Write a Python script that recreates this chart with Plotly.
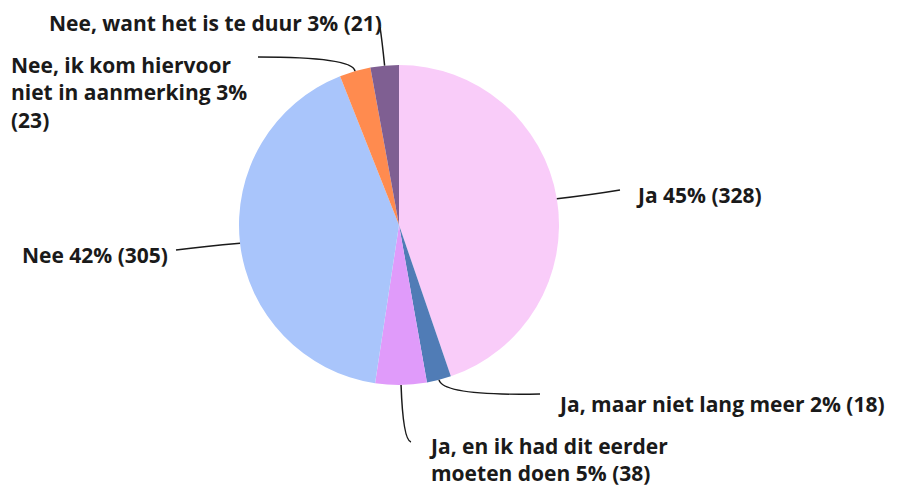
import math
import plotly.graph_objects as go

W, H = 902, 490
OFF = 8  # page body margin the figure sits in

labels = ["Ja", "Ja, maar niet lang meer", "Ja, en ik had dit eerder moeten doen",
          "Nee", "Nee, ik kom hiervoor niet in aanmerking", "Nee, want het is te duur"]
counts = [328, 18, 38, 305, 23, 21]
colors = ["#F9CCF9", "#507CB6", "#E09BFA", "#A9C5FB", "#FF8B4F", "#7F5F92"]

# words per line where the label text wraps in the picture
wrap_words = {
    "Ja, en ik had dit eerder moeten doen": [6],
    "Nee, ik kom hiervoor niet in aanmerking": [4, 4],
}

# pie geometry in page pixels
cx, cy, R = 399, 225, 160

# label placement (page pixels): text x, text y, anchor, leader elbow, leader end
placing = {
    "Ja": dict(x=634, y=195, xa="left", elbow=(590, 195), end=(620, 190)),
    "Ja, maar niet lang meer": dict(x=556, y=404, xa="left", elbow=(443, 396), end=(540, 394)),
    "Ja, en ik had dit eerder moeten doen": dict(x=427, y=459, xa="left", elbow=(403, 440), end=(411, 442)),
    "Nee": dict(x=170, y=255, xa="right", elbow=(205, 246), end=(176, 250)),
    "Nee, ik kom hiervoor niet in aanmerking": dict(x=9, y=92, xa="left", elbow=(353, 57), end=(258, 57)),
    "Nee, want het is te duur": dict(x=384, y=23, xa="right", elbow=(382, 40), end=(380, 27)),
}


def px(x, y):
    return (x - OFF) / W, 1 - (y - OFF) / H


def wrap(text, sizes):
    words = text.split(" ")
    lines, i = [], 0
    for s in sizes:
        lines.append(" ".join(words[i:i + s]))
        i += s
    lines.append(" ".join(words[i:]))
    return "<br>".join(lines)


fig = go.Figure()
x0, y1 = px(cx - R, cy - R)
x1, y0 = px(cx + R, cy + R)
fig.add_trace(go.Pie(labels=labels, values=counts, sort=False, direction="clockwise",
                     rotation=0, textinfo="none", hoverinfo="label+value+percent",
                     marker=dict(colors=colors, line=dict(width=0)),
                     domain=dict(x=[x0, x1], y=[y0, y1]),
                     showlegend=False))

total = sum(counts)
cum = 0
annotations, shapes = [], []
for lab, n in zip(labels, counts):
    mid = (cum + n / 2) / total * 2 * math.pi
    cum += n
    ax_, ay_ = cx + R * math.sin(mid), cy - R * math.cos(mid)
    p = placing[lab]
    pct = round(100 * n / total)
    txt = f"{lab} {pct}% ({n})"
    if lab in wrap_words:
        txt = wrap(txt, wrap_words[lab])
    x, y = px(p["x"], p["y"])
    annotations.append(dict(x=x, y=y, xref="paper", yref="paper", text=txt, showarrow=False,
                            xanchor=p["xa"], yanchor="middle", align="left",
                            font=dict(family="Open Sans", size=21, color="#1a1a1a", weight=700)))
    a = px(ax_, ay_)
    e = px(*p["elbow"])
    f = px(*p["end"])
    path = f"M {a[0]},{a[1]} Q {e[0]},{e[1]} {f[0]},{f[1]}"
    shapes.append(dict(type="path", path=path, xref="paper", yref="paper",
                       line=dict(color="#1a1a1a", width=1.5)))

fig.update_layout(width=W, height=H, margin=dict(l=0, r=0, t=0, b=0),
                  paper_bgcolor="white", plot_bgcolor="white",
                  annotations=annotations, shapes=shapes)
fig.write_html("out.html")
